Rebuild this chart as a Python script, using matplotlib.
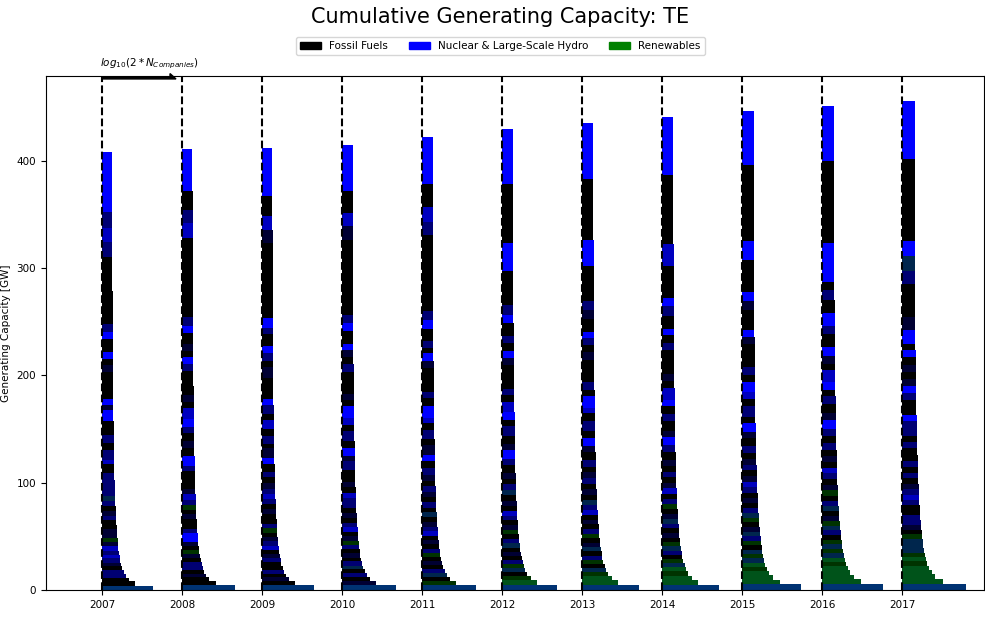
import numpy as np
import matplotlib
matplotlib.use('Agg')
import matplotlib.pyplot as plt
from matplotlib.patches import Patch

# Années et nombre d'entreprises par année
years = [2007, 2008, 2009, 2010, 2011, 2012, 2013, 2014, 2015, 2016, 2017]
n_companies = [83, 95, 89, 102, 102, 117, 135, 135, 166, 190, 251]

# Capacité par entreprise (GW), de bas en haut, et code du mix
# F = fossile, N = nucléaire/hydro, a/b/c = mélange fossile-nucléaire,
# g/G = mélange fossile-renouvelable, t/u = mélange des trois
caps_2007 = [4.2, 3.8, 3.6, 3.5, 3.4, 3.6, 3.5, 3.8, 3.6, 3.7, 3.9, 4.0, 3.8, 4.1, 4.0, 4.3, 4.2, 4.4, 4.5,
             4.6, 4.4, 4.8, 4.7, 5.0, 5.2,
             6.0, 8.5, 4.0, 9.0, 7.0, 7.0, 7.5, 6.0, 10.0, 4.5, 6.0, 12.5, 12.5, 6.5, 6.0, 6.5,
             12.0, 6.5, 7.0, 31.0, 32.0, 14.0, 13.0, 15.0, 55.4]
mix_2007 = "uFFbbFabcbcagaaFFbaFbtbbb" + "bFcbFbFFNaNFFaFN" + "FNbFFbcbN"

caps_2008 = [4.3, 3.9, 3.7, 3.5, 3.6, 3.4, 3.7, 3.6, 3.8, 3.9, 3.7, 4.0, 4.2, 3.9, 4.1, 4.4, 4.3, 4.5, 4.4,
             4.7, 4.6, 4.9, 5.0, 5.1, 5.3,
             6.5, 5.0, 9.0, 7.5, 6.0, 8.0, 5.5, 7.0, 11.0, 5.0, 6.5, 9.0, 14.0, 6.0, 7.0, 5.5, 6.5,
             10.0, 7.0, 8.0, 36.0, 38.0, 14.0, 12.0, 17.0, 39.5]
mix_2008 = "uFFaFbbFagFaNNbFFaFgbcaFF" + "FbNFaFbNcFaFFbNFa" + "FNbFFcbFN"

caps_2009 = [4.4, 3.8, 3.6, 3.6, 3.5, 3.5, 3.7, 3.8, 3.7, 3.9, 3.8, 4.1, 4.0, 4.2, 4.0, 4.3, 4.5, 4.4, 4.6,
             4.5, 4.8, 4.9, 5.0, 5.2, 5.1,
             5.5, 7.0, 6.0, 8.5, 4.5, 7.0, 6.5, 9.0, 5.5, 8.0, 6.0, 7.5, 12.0, 10.0, 6.0, 7.0, 6.5,
             11.0, 6.0, 9.0, 34.0, 36.0, 12.0, 13.0, 18.6, 45.0]
mix_2009 = "uFaFbFFbaFcbaFgbFFaFbcbaF" + "bFNaFbFcFbNFFaFbN" + "FbNFFacFN"

caps_2010 = [4.5, 4.0, 3.7, 3.6, 3.4, 3.6, 3.8, 3.7, 3.9, 3.8, 4.0, 4.1, 3.9, 4.2, 4.3, 4.2, 4.4, 4.6, 4.5,
             4.7, 4.8, 5.0, 4.9, 5.2, 5.3,
             6.0, 8.0, 5.0, 7.5, 6.5, 9.5, 5.0, 7.0, 10.5, 6.0, 5.5, 8.0, 13.0, 7.5, 6.0, 6.5, 5.5,
             12.0, 8.0, 7.0, 34.0, 36.0, 13.0, 12.0, 20.9, 43.0]
mix_2010 = "uaFbFtbFaFbgaFcbFaFbbcFaF" + "FbaNFbFcNFaFFbFaN" + "FNbFFacFN"

caps_2011 = [4.6, 4.0, 3.8, 3.7, 3.6, 3.5, 3.7, 3.9, 3.8, 4.0, 3.9, 4.1, 4.2, 4.0, 4.3, 4.4, 4.3, 4.6, 4.5,
             4.8, 4.7, 5.0, 5.1, 5.3, 5.2,
             6.5, 7.0, 5.5, 9.0, 6.0, 8.0, 6.5, 5.0, 11.0, 7.0, 6.0, 9.5, 12.5, 6.5, 7.5, 5.5, 6.0,
             11.0, 9.0, 8.0, 35.0, 36.0, 12.0, 14.0, 21.0, 44.0]
mix_2011 = "ugFtbFaFgbFaFcbaFtFbFabFa" + "bFNaFbFcNFbFFaNFb" + "FNbFFbcFN"

caps_2012 = [4.8, 4.1, 3.9, 3.8, 3.7, 3.6, 3.8, 3.9, 4.0, 3.9, 4.1, 4.2, 4.0, 4.3, 4.4, 4.3, 4.5, 4.7, 4.6,
             4.8, 4.9, 5.1, 5.0, 5.3, 5.4,
             7.0, 6.0, 8.5, 5.5, 7.5, 9.0, 6.0, 7.0, 10.0, 6.5, 5.5, 8.5, 13.5, 7.0, 6.0, 7.5, 6.5,
             12.0, 8.0, 9.0, 32.0, 26.0, 27.0, 28.0, 51.4]
mix_2012 = "uGgFtgbFaFtbFgaFbcFaFtbFa" + "FbNaFbFNcFbFFaNFb" + "FNbFNFFN"

caps_2013 = [5.0, 4.2, 4.0, 3.9, 3.7, 3.6, 3.8, 3.9, 4.0, 4.1, 3.9, 4.2, 4.3, 4.1, 4.4, 4.5, 4.3, 4.6, 4.8,
             4.7, 4.9, 5.0, 5.2, 5.1, 5.4, 5.5,
             6.5, 7.5, 5.0, 8.0, 6.5, 9.0, 7.0, 5.5, 10.5, 6.0, 7.0, 8.0, 13.0, 7.5, 6.0, 6.5, 6.0,
             12.0, 8.0, 9.0, 32.0, 25.0, 28.0, 28.4, 52.0]
mix_2013 = "uGGgtFgbFtaFgbFaFcbtFaFbaF" + "bFaNFbFcNFbFFaFbN" + "FabFNFFN"

caps_2014 = [5.1, 4.3, 4.1, 3.9, 3.8, 3.7, 3.8, 4.0, 3.9, 4.1, 4.2, 4.0, 4.3, 4.4, 4.2, 4.5, 4.6, 4.4, 4.7,
             4.8, 4.9, 5.0, 5.1, 5.2, 5.3, 5.5, 5.6,
             7.0, 6.5, 8.0, 5.5, 9.0, 6.5, 7.5, 6.0, 11.0, 6.0, 7.0, 9.0, 13.5, 6.5, 7.0, 6.0,
             12.0, 9.0, 8.0, 30.0, 20.0, 32.0, 32.6, 54.0]
mix_2014 = "uGGgGtgFbtgFaFbtaFgbFcaFbFa" + "FbNaFbFNcFaFFbFN" + "FbNFcFFN"

caps_2015 = [5.2, 4.4, 4.2, 4.0, 3.9, 3.8, 3.9, 4.0, 4.1, 4.0, 4.2, 4.3, 4.1, 4.4, 4.5, 4.3, 4.6, 4.7, 4.5,
             4.8, 4.9, 5.0, 5.1, 5.2, 5.3, 5.4, 5.6, 5.7,
             6.5, 7.0, 5.5, 8.5, 6.0, 9.5, 7.0, 6.0, 10.0, 6.5, 7.5, 8.5, 12.5, 7.0, 6.5, 6.0,
             12.0, 9.0, 8.0, 30.0, 18.0, 35.0, 35.4, 50.0]
mix_2015 = "uGGGgGtgtFgbtaFgtbFaFbcaFbaF" + "bFaNFbFcNFbFFaNF" + "FaNFNFFN"

caps_2016 = [5.4, 4.5, 4.3, 4.1, 4.0, 3.9, 4.0, 4.1, 4.2, 4.1, 4.3, 4.4, 4.2, 4.5, 4.6, 4.4, 4.7, 4.8, 4.6,
             4.9, 5.0, 5.1, 5.2, 5.3, 5.4, 5.5, 5.6, 5.8, 5.9,
             7.0, 6.0, 8.5, 6.5, 9.0, 7.0, 6.0, 7.5, 10.5, 6.0, 7.0, 9.0, 12.0, 7.5, 6.5, 5.5,
             12.0, 9.0, 8.0, 36.0, 38.0, 38.7, 51.0]
mix_2016 = "uGGGGgGtgtgFbtgaFtbFgaFbcFaFb" + "FbNaFbFNcFaNFbNN" + "FbFNFFN"

caps_2017 = [5.5, 4.6, 4.4, 4.2, 4.1, 4.0, 3.9, 4.1, 4.2, 4.3, 4.2, 4.4, 4.5, 4.3, 4.6, 4.7, 4.5, 4.8, 4.9,
             4.7, 5.0, 5.1, 5.2, 5.3, 5.4, 5.5, 5.7, 5.8, 6.0, 6.1,
             7.0, 6.5, 6.0, 7.5, 6.0, 7.0, 6.5, 6.5, 6.0, 6.3,
             7.7, 6.3, 6.2, 12.4, 12.4, 31.0, 12.4, 14.0, 14.0, 38.0, 38.0, 54.3]
mix_2017 = "uGGGGgGgtttgFabbFFbcbaFbFbFFbF" + "bbNFFbNaFa" + "FNFNaFbtNFFN"

capacities = [caps_2007, caps_2008, caps_2009, caps_2010, caps_2011, caps_2012,
              caps_2013, caps_2014, caps_2015, caps_2016, caps_2017]
mixes = [mix_2007, mix_2008, mix_2009, mix_2010, mix_2011, mix_2012,
         mix_2013, mix_2014, mix_2015, mix_2016, mix_2017]

# Part nucléaire et part renouvelable pour chaque code
shares = {
    'F': (0.0, 0.0),
    'a': (0.2, 0.0),
    'b': (0.45, 0.0),
    'c': (0.75, 0.0),
    'N': (1.0, 0.0),
    'g': (0.0, 0.4),
    'G': (0.1, 0.65),
    't': (0.3, 0.3),
    'u': (0.45, 0.4),
}

fig = plt.figure(figsize=(9.85, 6.19), dpi=100)
ax = fig.add_axes([0.0467, 0.0468, 0.952, 0.830])

for year, n, caps, mix in zip(years, n_companies, capacities, mixes):
    assert len(caps) == len(mix)
    caps = np.array(caps)
    bottoms = np.concatenate([[0], np.cumsum(caps)[:-1]])
    rank = np.arange(len(caps))
    w0 = np.log10(n) / 3.0
    widths = w0 * np.where(rank == 0, 1.0, 0.64 * np.maximum(rank, 1) ** -0.3)
    # couleur = mélange noir / bleu / vert
    colors = [(0.0, 0.5 * shares[c][1], shares[c][0]) for c in mix]
    ax.barh(bottoms, widths, height=caps, left=year, align='edge', color=colors, linewidth=0)
    ax.axvline(year, color='k', linestyle='--', linewidth=1.5, zorder=3)

ymax = 1.05 * max(sum(c) for c in capacities)
ax.set_ylim(0, ymax)
ax.set_xlim(2006.3, 2018.02)

# Flèche d'échelle
ax.arrow(years[0], ymax - 2.5, 0.925, 0, width=3.6, head_width=10, head_length=0.075,
         shape='right', length_includes_head=True, color='k', clip_on=False, zorder=4)
ax.text(years[0] - 0.02, ymax * 1.025, r'$log_{10}(2*N_{Companies})$', fontsize=7.5,
        ha='left', va='center')

ax.set_xticks(years)
ax.set_xticklabels([str(y) for y in years])
ax.tick_params(labelsize=7.5)
ax.set_ylabel('Generating Capacity [GW]', fontsize=7.5)

fig.text(0.508, 0.9725, 'Cumulative Generating Capacity: TE', ha='center', va='center', fontsize=15)
handles = [Patch(color='black', label='Fossil Fuels'),
           Patch(color='blue', label='Nuclear & Large-Scale Hydro'),
           Patch(color='green', label='Renewables')]
fig.legend(handles=handles, loc='center', bbox_to_anchor=(0.508, 0.9257), ncol=3, fontsize=7.5)

fig.savefig('out.png', dpi=100)
